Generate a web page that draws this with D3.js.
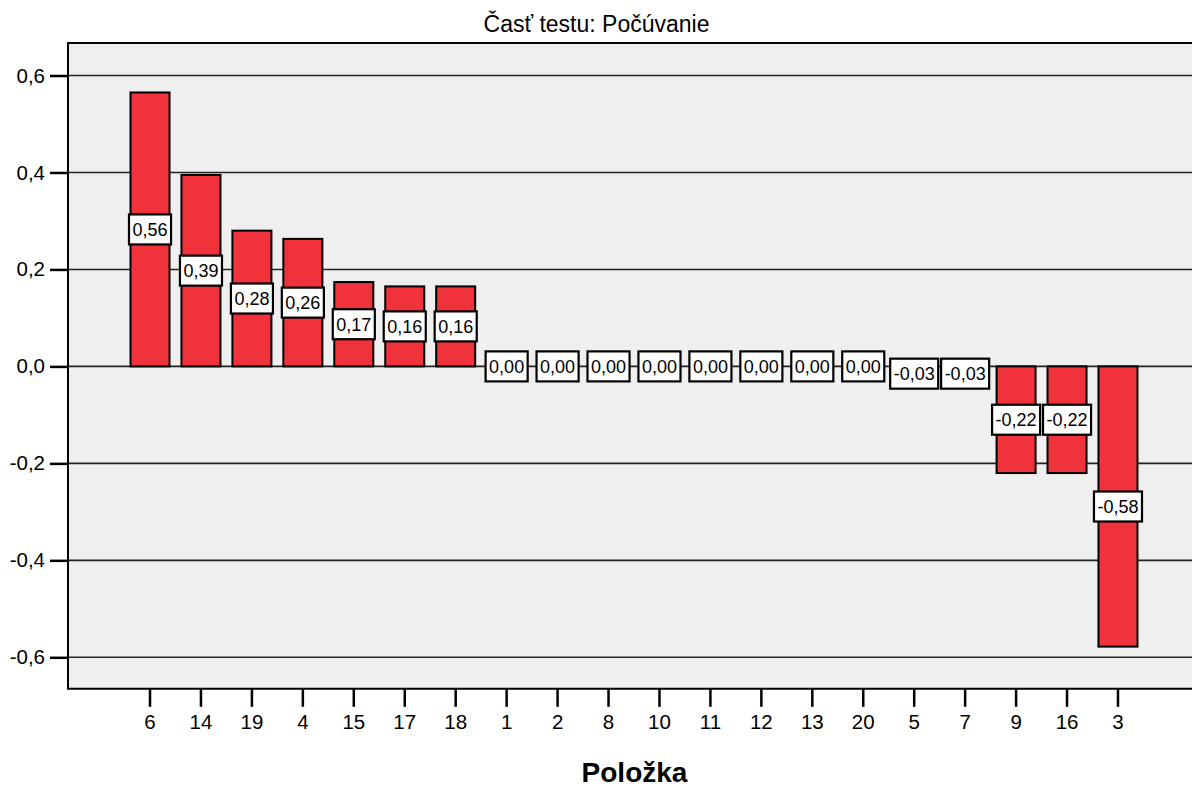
<!DOCTYPE html>
<html><head><meta charset="utf-8">
<script src="https://cdn.jsdelivr.net/npm/d3@7"></script>
<style>body{margin:0;background:#fff;} text{font-family:Arial,"Liberation Sans",sans-serif;}</style>
</head><body>
<svg id="c" width="1192" height="788"></svg>
<script>
const title = "Časť testu: Počúvanie";
const xTitle = "Položka";
const categories = ["6","14","19","4","15","17","18","1","2","8","10","11","12","13","20","5","7","9","16","3"];
const values = [0.565,0.395,0.28,0.263,0.174,0.165,0.165,0,0,0,0,0,0,0,0,-0.03,-0.03,-0.22,-0.22,-0.578];
const labels = ["0,56","0,39","0,28","0,26","0,17","0,16","0,16","0,00","0,00","0,00","0,00","0,00","0,00","0,00","0,00","-0,03","-0,03","-0,22","-0,22","-0,58"];
const yTicks = [-0.6,-0.4,-0.2,0.0,0.2,0.4,0.6];

const FONT = "Arial,'Liberation Sans',sans-serif";
const svg = d3.select("#c");
const y = d3.scaleLinear().domain([-0.6,0.6]).range([657.3,75.5]);
const plotTop = y(0.667), plotBottom = y(-0.665);
const plotLeft = 68, plotRight = 1200;
const x = d3.scaleBand().domain(categories).range([plotLeft, plotRight]).paddingInner(0.234).paddingOuter(1.227);

// background
svg.append("rect").attr("x",plotLeft).attr("y",plotTop).attr("width",plotRight-plotLeft).attr("height",plotBottom-plotTop).attr("fill","#efefef");

// gridlines
svg.append("g").selectAll("line").data(yTicks).join("line")
  .attr("x1",plotLeft).attr("x2",plotRight).attr("y1",d=>y(d)).attr("y2",d=>y(d))
  .attr("stroke","#222").attr("stroke-width",1.6);

// bars
svg.append("g").selectAll("rect").data(values).join("rect")
  .attr("x",(d,i)=>x(categories[i]))
  .attr("width",x.bandwidth())
  .attr("y",d=>Math.min(y(d),y(0)))
  .attr("height",d=>Math.abs(y(d)-y(0)))
  .attr("fill","#f0333b").attr("stroke","#000").attr("stroke-width",2);

// frame
svg.append("path").attr("d",`M${plotRight},${plotTop}H${plotLeft}V${plotBottom}H${plotRight}`)
  .attr("fill","none").attr("stroke","#000").attr("stroke-width",2);

// y axis
const yAxis = d3.axisLeft(y).tickValues(yTicks).tickSize(18).tickPadding(5)
  .tickFormat(d=>d3.format(".1f")(d).replace(".",",").replace("−","-"));
const gy = svg.append("g").attr("transform",`translate(${plotLeft},0)`).call(yAxis);
gy.select(".domain").remove();
gy.selectAll(".tick line").attr("stroke","#000").attr("stroke-width",2.5);
gy.selectAll(".tick text").attr("font-size",20.5).attr("fill","#000").attr("font-family",FONT);

// x axis
const xAxis = d3.axisBottom(x).tickSize(18).tickPadding(8);
const gx = svg.append("g").attr("transform",`translate(0,${plotBottom})`).call(xAxis);
gx.select(".domain").remove();
gx.selectAll(".tick line").attr("stroke","#000").attr("stroke-width",2.5);
gx.selectAll(".tick text").attr("font-size",20.5).attr("fill","#000").attr("font-family",FONT);

// value labels
const lg = svg.append("g");
values.forEach((v,i)=>{
  const cx = x(categories[i]) + x.bandwidth()/2;
  const cy = (y(v)+y(0))/2;
  const g = lg.append("g");
  const t = g.append("text").attr("x",cx).attr("y",cy+6.5).attr("text-anchor","middle")
    .attr("font-size",18).attr("fill","#000").attr("font-family",FONT).text(labels[i]);
  const w = t.node().getComputedTextLength();
  g.insert("rect","text").attr("x",cx-w/2-3.5).attr("y",cy-15).attr("width",w+7).attr("height",30)
    .attr("fill","#fff").attr("stroke","#000").attr("stroke-width",2.2);
});

// titles
svg.append("text").attr("x",596.5).attr("y",31.5).attr("text-anchor","middle").attr("font-size",23).attr("fill","#000").attr("font-family",FONT).text(title);
svg.append("text").attr("x",634.5).attr("y",782).attr("text-anchor","middle").attr("font-size",28).attr("font-weight","bold").attr("fill","#000").attr("font-family",FONT).text(xTitle);
</script>
</body></html>
